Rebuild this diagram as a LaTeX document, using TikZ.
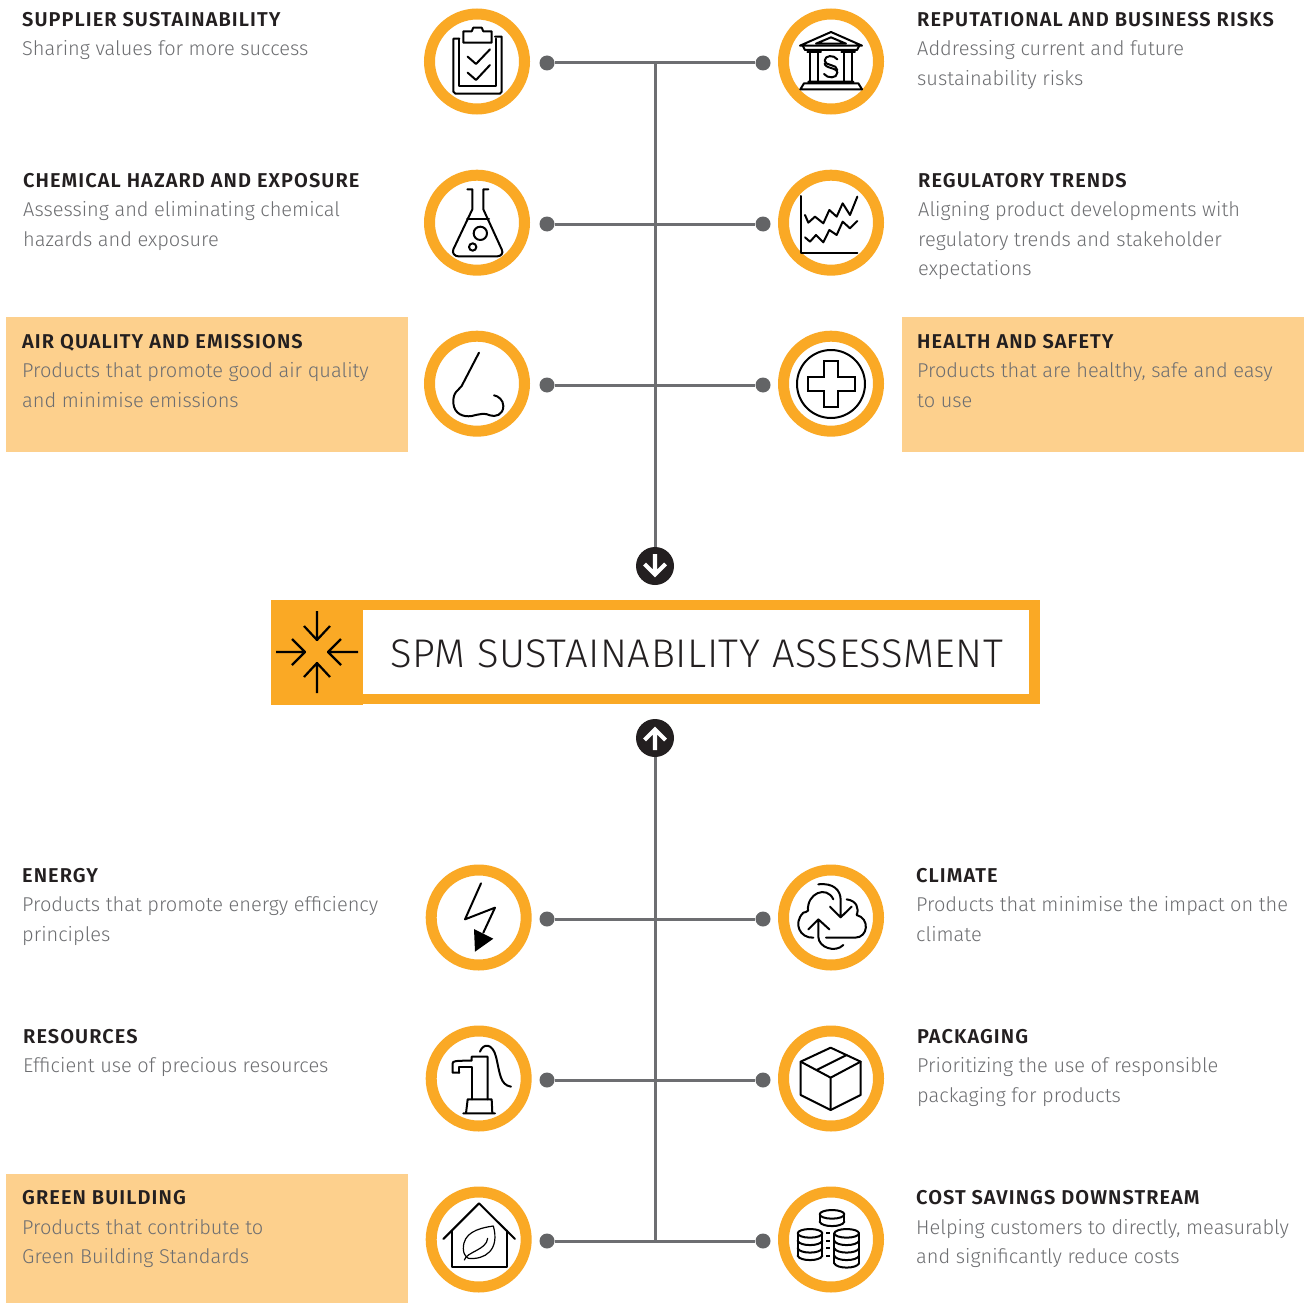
\documentclass[tikz,border=0pt]{standalone}
\usepackage{fontspec}
\setmainfont{Fira Sans}
\newfontfamily\bodyfam[LetterSpace=0]{Fira Sans Light}
\newfontfamily\headfam[LetterSpace=5.3]{Fira Sans SemiBold}
\newfontfamily\mainfam[LetterSpace=1.5]{Fira Sans Light}
\definecolor{ora}{HTML}{FAA925}
\definecolor{pale}{HTML}{FDD08D}
\definecolor{ink}{HTML}{231F20}
\definecolor{txt}{HTML}{6D6E71}
\definecolor{lin}{HTML}{6D6E71}
\definecolor{dotc}{HTML}{636466}
\tikzset{
  ring/.style={circle,draw=ora,line width=11pt,fill=white,minimum size=95pt,inner sep=0pt},
  dot/.style={circle,fill=dotc,minimum size=15pt,inner sep=0pt},
  badge/.style={circle,fill=ink,minimum size=38pt,inner sep=0pt},
  conn/.style={draw=lin,line width=3pt},
  ttl/.style={anchor=base west,inner sep=0pt,text=ink,font=\headfam\fontsize{20}{24}\selectfont},
  bod/.style={anchor=base west,inner sep=0pt,text=txt,font=\bodyfam\fontsize{20}{24}\selectfont},
  ico/.style={draw=black,line width=2pt,line join=round,line cap=round},
  thin ico/.style={draw=black,line width=1.2pt,line join=round,line cap=round},
  wa/.style={draw=white,line width=4.2pt},
}
\begin{document}
\begin{tikzpicture}[x=1pt,y=-1pt]
\useasboundingbox (0,0) rectangle (1304,1303);
\fill[white] (0,0) rectangle (1304,1303);
% highlight panels
\fill[pale] (6,317) rectangle (408,452);
\fill[pale] (902,317) rectangle (1304,452);
\fill[pale] (6,1174) rectangle (408,1303);
% connectors' ends
\node[dot] (dl1) at (547,63) {};  \node[dot] (dr1) at (763,63) {};
\node[dot] (dl2) at (547,224) {}; \node[dot] (dr2) at (763,224) {};
\node[dot] (dl3) at (547,385) {}; \node[dot] (dr3) at (763,385) {};
\node[dot] (dl4) at (547,919) {}; \node[dot] (dr4) at (763,919) {};
\node[dot] (dl5) at (547,1080) {};\node[dot] (dr5) at (763,1080) {};
\node[dot] (dl6) at (547,1241) {};\node[dot] (dr6) at (763,1241) {};
\node[badge] (down) at (655,566) {};
\node[badge] (up) at (655,738) {};
\foreach \i in {1,...,6} {\draw[conn] (dl\i) -- (dr\i);}
\draw[conn] (down) -- (down |- dl1);
\draw[conn] (up) -- (up |- dl6);
\draw[wa] (655,554) -- (655,573) (644.5,564) -- (655,574.5) -- (665.5,564);
\draw[wa] (655,750) -- (655,731) (644.5,740) -- (655,729.5) -- (665.5,740);
% rings
\node[ring] (r1) at (477,61.5) {};  \node[ring] (s1) at (831,61.5) {};
\node[ring] (r2) at (477,222.7) {}; \node[ring] (s2) at (831,222.7) {};
\node[ring] (r3) at (477,383.7) {}; \node[ring] (s3) at (831,383.7) {};
\node[ring] (r4) at (478.7,917.5) {}; \node[ring] (s4) at (831,917.5) {};
\node[ring] (r5) at (478.7,1078.5) {};\node[ring] (s5) at (831,1078.5) {};
\node[ring] (r6) at (478.7,1239.5) {};\node[ring] (s6) at (831,1239.5) {};
% central box
\draw[ora,line width=10.5pt,fill=white] (276,605.2) rectangle (1034.7,698.8);
\fill[ora] (271,600) rectangle (363,705);
\node[anchor=base west,inner sep=0pt,text=ink,font=\mainfam\fontsize{40}{48}\selectfont] (main) at (390,667.5) {SPM SUSTAINABILITY ASSESSMENT};
\begin{scope}[ico,line width=2.2pt,line cap=butt]
\draw (317,611) -- (317,640) (304,626) -- (317,640) -- (330,626);
\draw (276,652) -- (305,652) (292,639) -- (305,652) -- (292,665);
\draw (358,652) -- (328,652) (341,639) -- (328,652) -- (341,665);
\draw (317,693) -- (317,663) (304,677) -- (317,663) -- (330,677);
\end{scope}
% icons, upper block
\begin{scope}[shift={(420,0)},scale=1/3]
% clipboard
\draw[ico] (118,116) -- (100,116) -- (100,275) -- (106,281) -- (240,281) -- (245,275) -- (245,110) -- (225,110);
\draw[ico] (118,116) -- (118,258) -- (228,258) -- (228,116);
\draw[ico] (130,128) -- (130,94) -- (155,94) -- (160,83) -- (185,83) -- (190,94) -- (215,94) -- (215,128) -- cycle;
\draw[ico] (143,170) -- (168,192) -- (210,148) (143,218) -- (168,240) -- (210,195);
% bank
\draw[ico] (1140,137) -- (1233,96) -- (1326,137) -- cycle;
\draw[ico] (1188,131) -- (1233,112) -- (1278,131) -- cycle;
\draw[ico] (1148,137) -- (1155,150) -- (1311,150) -- (1318,137);
\draw[ico] (1170,160) -- (1170,243) (1195,160) -- (1195,243) (1272,160) -- (1272,243) (1297,160) -- (1297,243);
\draw[ico] (1162,157) -- (1203,157) (1264,157) -- (1305,157);
\draw[ico] (1165,245) -- (1300,245) (1152,250) -- (1315,250) -- (1326,268) -- (1141,268) -- cycle;
\draw[ico] (1252,178) .. controls (1242,164) and (1214,165) .. (1214,182) .. controls (1214,198) and (1252,192) .. (1252,210);
\draw[ico] (1214,190) .. controls (1214,206) and (1252,202) .. (1252,218) .. controls (1252,236) and (1222,236) .. (1212,222);
% flask
\draw[ico] (142,568) -- (157,568) -- (157,628) -- (100,748) .. controls (95,760) and (105,769) .. (115,769) -- (232,769) .. controls (242,769) and (252,760) .. (245,748) -- (190,628) -- (190,568) -- (205,568);
\draw[ico] (141,658) -- (207,658);
\draw[ico] (181,700) circle[radius=20];
\draw[ico] (158,741) circle[radius=11];
% chart
\draw[ico] (1142,588) -- (1142,758) -- (1312,758);
\draw[ico] (1155,645) -- (1165,668) -- (1185,650) -- (1210,670) -- (1228,630) -- (1250,650) -- (1268,610) -- (1290,645) -- (1312,590);
\draw[ico] (1155,712) -- (1170,725) -- (1188,705) -- (1210,727) -- (1228,690) -- (1250,705) -- (1268,665) -- (1290,685) -- (1312,663);
\end{scope}
\begin{scope}[shift={(420,320)},scale=1/3]
% nose
\draw[ico] (177,98) -- (125,198) .. controls (115,212) and (98,215) .. (100,250) .. controls (103,282) and (130,292) .. (155,288) .. controls (180,282) and (195,278) .. (210,286) .. controls (225,292) and (250,285) .. (250,258) .. controls (250,240) and (235,228) .. (222,226);
% health
\draw[ico] (1233,192) circle[radius=102];
\draw[ico,line join=miter] (1212,123) -- (1255,123) -- (1255,172) -- (1305,172) -- (1305,213) -- (1255,213) -- (1255,262) -- (1212,262) -- (1212,213) -- (1163,213) -- (1163,172) -- (1212,172) -- cycle;
\end{scope}
% icons, lower block
\begin{scope}[shift={(420,860)},scale=1/3]
% bolt
\draw[ico] (183,70) -- (135,178) -- (225,143) -- (190,218);
\fill[black] (162,207) -- (220,236) -- (165,275) -- cycle;
% cloud
\draw[ico] (1180,233) .. controls (1140,235) and (1118,190) .. (1150,158) .. controls (1155,158) and (1160,155) .. (1164,152) .. controls (1160,100) and (1220,75) .. (1240,118);
\draw[ico] (1195,73) .. controls (1240,68) and (1262,90) .. (1262,120) -- (1262,172) (1230,140) -- (1262,172) -- (1295,140);
\draw[ico] (1280,118) .. controls (1310,122) and (1318,145) .. (1310,165) .. controls (1350,175) and (1345,233) .. (1305,233) -- (1218,233);
\draw[ico] (1195,178) -- (1195,230) .. controls (1195,262) and (1245,280) .. (1270,255) (1165,208) -- (1195,178) -- (1228,208);
% pump
\draw[ico] (118,638) -- (98,638) -- (98,610) .. controls (98,603) and (105,602) .. (155,602) -- (155,590) -- (203,590) -- (203,718);
\draw[ico] (118,638) -- (118,622) -- (155,622) -- (155,718);
\draw[ico] (143,718) -- (215,718) -- (217,760) -- (138,760) -- cycle (130,760) -- (225,760);
\draw[ico] (180,575) .. controls (190,548) and (218,550) .. (228,590) .. controls (240,640) and (240,675) .. (273,680);
% box
\draw[ico] (1142,605) -- (1232,563) -- (1322,605) -- (1322,705) -- (1232,750) -- (1142,705) -- cycle;
\draw[ico] (1142,605) -- (1232,653) -- (1322,605) (1232,653) -- (1232,750) (1190,630) -- (1280,585);
\end{scope}
\begin{scope}[shift={(420,1170)},scale=1/3]
% house
\draw[ico] (70,207) -- (177,100) -- (285,207);
\draw[ico] (95,182) -- (95,290) -- (260,290) -- (260,182);
\draw[thin ico] (220,168) .. controls (170,175) and (130,190) .. (130,235) .. controls (130,250) and (135,258) .. (145,265) .. controls (195,270) and (240,240) .. (220,168);
\draw[thin ico] (133,270) .. controls (140,245) and (200,240) .. (203,205);
% coins
\foreach \cx/\cy/\n in {1236/133/1,1170/190/3,1280/190/4} {
  \fill[white] (\cx-37,\cy) rectangle (\cx+37,\cy+22.5*\n);
  \draw[ico] (\cx,\cy) ellipse[x radius=37,y radius=13];
  \draw[ico] (\cx-37,\cy) -- (\cx-37,\cy+22.5*\n) (\cx+37,\cy) -- (\cx+37,\cy+22.5*\n);
  \foreach \k in {1,...,\n} {
    \draw[ico] (\cx-37,\cy+22.5*\k) .. controls (\cx-30,\cy+22.5*\k+17) and (\cx+30,\cy+22.5*\k+17) .. (\cx+37,\cy+22.5*\k);
  }
}
\draw[ico,line cap=butt] (1218,190) -- (1230,190) (1218,212) -- (1230,212) (1218,235) -- (1230,235) (1218,257) -- (1230,257);
\end{scope}
% left texts
\node[ttl] (t1) at (22,26.5) {SUPPLIER SUSTAINABILITY};
\node[bod] (b1a) at (22,55.5) {Sharing values for more success};
\node[ttl] (t2) at (23,187) {CHEMICAL HAZARD AND EXPOSURE};
\node[bod] (b2a) at (23,216) {Assessing and eliminating chemical};
\node[bod] (b2b) at (23,246) {hazards and exposure};
\node[ttl] (t3) at (22,348) {AIR QUALITY AND EMISSIONS};
\node[bod] (b3a) at (22,377.5) {Products that promote good air quality};
\node[bod] (b3b) at (22,407) {and minimise emissions};
\node[ttl] (t4) at (22,882) {ENERGY};
\node[bod] (b4a) at (22,911) {Products that promote energy efficiency};
\node[bod] (b4b) at (22,941) {principles};
\node[ttl] (t5) at (23,1043) {RESOURCES};
\node[bod] (b5a) at (23,1072) {Efficient use of precious resources};
\node[ttl] (t6) at (22,1204) {GREEN BUILDING};
\node[bod] (b6a) at (22,1234) {Products that contribute to};
\node[bod] (b6b) at (22,1263) {Green Building Standards};
% right texts
\node[ttl] (u1) at (917,26.5) {REPUTATIONAL AND BUSINESS RISKS};
\node[bod] (v1a) at (917,55.5) {Addressing current and future};
\node[bod] (v1b) at (917,85.5) {sustainability risks};
\node[ttl] (u2) at (918,187) {REGULATORY TRENDS};
\node[bod] (v2a) at (918,216) {Aligning product developments with};
\node[bod] (v2b) at (918,246) {regulatory trends and stakeholder};
\node[bod] (v2c) at (918,275) {expectations};
\node[ttl] (u3) at (917,348) {HEALTH AND SAFETY};
\node[bod] (v3a) at (917,377.5) {Products that are healthy, safe and easy};
\node[bod] (v3b) at (917,407) {to use};
\node[ttl] (u4) at (916,882) {CLIMATE};
\node[bod] (v4a) at (916,911) {Products that minimise the impact on the};
\node[bod] (v4b) at (916,941) {climate};
\node[ttl] (u5) at (917,1043) {PACKAGING};
\node[bod] (v5a) at (917,1072) {Prioritizing the use of responsible};
\node[bod] (v5b) at (917,1102) {packaging for products};
\node[ttl] (u6) at (916,1204) {COST SAVINGS DOWNSTREAM};
\node[bod] (v6a) at (916,1234) {Helping customers to directly, measurably};
\node[bod] (v6b) at (916,1263) {and significantly reduce costs};
\end{tikzpicture}
\end{document}
